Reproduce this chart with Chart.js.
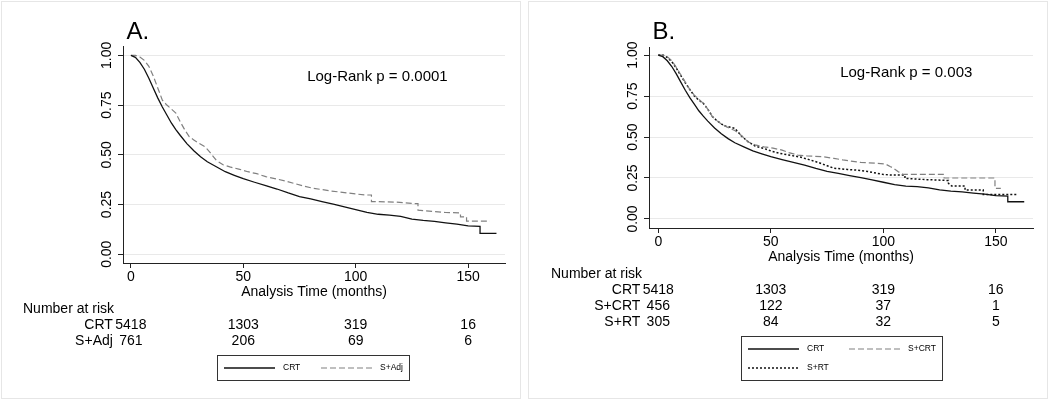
<!DOCTYPE html>
<html>
<head>
<meta charset="utf-8">
<script src="https://cdn.jsdelivr.net/npm/chart.js@4.4.1/dist/chart.umd.min.js"></script>
<style>
  html, body { margin: 0; padding: 0; background: #fff; }
  #wrap { position: relative; width: 1050px; height: 400px; overflow: hidden; }
  .frame { position: absolute; top: 1px; width: 518px; height: 396px; border: 1px solid #e6e6e6; }
  canvas { position: absolute; top: 0; }
</style>
</head>
<body>
<div id="wrap">
  <div class="frame" style="left:1px"></div>
  <div class="frame" style="left:528px"></div>
  <canvas id="chartA" width="525" height="400" style="left:0"></canvas>
  <canvas id="chartB" width="525" height="400" style="left:525px"></canvas>
</div>
<script>
// ---- data (months, survival probability) ----
const xTicks = [0, 50, 100, 150];
const yTicks = [0, 0.25, 0.5, 0.75, 1];
const riskTimes = [0, 50, 100, 150];

// CRT (same cohort in both panels)
const crtTime = [0,2,4,6,8,10,12,14,16,18,20,22,25,28,31,34,38,42,46,50,55,60,65,70,75,80,85,90,95,100,105,110,115,120,125,130,135,140,145,150,155.3,155.3,162.6];
const crtSurv = [1,0.99,0.965,0.93,0.885,0.835,0.785,0.74,0.70,0.66,0.627,0.597,0.555,0.52,0.49,0.465,0.44,0.415,0.397,0.38,0.362,0.345,0.328,0.308,0.29,0.278,0.265,0.252,0.238,0.224,0.21,0.201,0.197,0.19,0.177,0.17,0.165,0.158,0.151,0.143,0.14,0.105,0.105];

// S+Adj (panel A)
const adjTime = [0,2,4,6,8,10,12,14,16,18,20,22,24,26,28,30,33,35,38,41,44,48,52,56,60,65,69,73,77,81,85,89,93,98,104,107,107,118,126,127.7,127.7,140,146.6,146.6,149.3,149.3,159.7];
const adjSurv = [1,1,0.992,0.975,0.945,0.895,0.835,0.775,0.75,0.73,0.71,0.665,0.625,0.59,0.575,0.56,0.54,0.515,0.472,0.45,0.439,0.428,0.415,0.405,0.39,0.378,0.367,0.355,0.342,0.332,0.325,0.318,0.313,0.306,0.298,0.298,0.265,0.262,0.255,0.255,0.222,0.21,0.208,0.188,0.188,0.167,0.167];

// S+CRT (panel B)
const scrtTime = [0,2,4,6,8,10,12,14,16,18,20,22,24,26,28,30,32,34,36,38,40,43,47,51,55,58,62,66,73,78,82,90,97,101,103,104.5,106.5,108.7,127,127,149.6,149.6,152.2];
const scrtSurv = [1,1,0.99,0.965,0.925,0.88,0.835,0.79,0.755,0.73,0.705,0.67,0.625,0.6,0.58,0.565,0.55,0.54,0.52,0.495,0.47,0.452,0.44,0.432,0.42,0.405,0.39,0.385,0.38,0.37,0.36,0.345,0.34,0.335,0.32,0.31,0.289,0.272,0.272,0.25,0.25,0.187,0.187];

// S+RT (panel B)
const srtTime = [0,2,4,6,8,10,12,14,16,18,20,22,24,26,28,30,32,34,35.5,37,40,43,47,50,54,58,63,67,71,75,78,84,88,93,97,100,103,109.6,109.6,119.3,128.9,128.9,130.4,136.3,136.3,144.4,144.4,159.3];
const srtSurv = [1,1,0.985,0.96,0.92,0.875,0.83,0.79,0.75,0.725,0.705,0.67,0.625,0.6,0.58,0.565,0.56,0.553,0.53,0.505,0.47,0.445,0.43,0.415,0.40,0.39,0.378,0.362,0.345,0.325,0.31,0.302,0.298,0.29,0.279,0.272,0.268,0.268,0.248,0.24,0.235,0.218,0.201,0.201,0.177,0.177,0.15,0.15];

// number at risk
const atRiskCrt  = [5418, 1303, 319, 16];
const atRiskAdj  = [761, 206, 69, 6];
const atRiskScrt = [456, 122, 37, 1];
const atRiskSrt  = [305, 84, 32, 5];

// ---- styles ----
const FAMILY = '"Liberation Sans", Arial, Helvetica, sans-serif';
const TXT = "#000";
const AXIS = "#222";
const GRID = "#e9e9e9";

function pts(ts, ss){ return ts.map((t, i) => ({ x: t, y: ss[i] })); }

const solid  = { borderColor: "#111", borderWidth: 1.3, borderDash: [] };
const dashed = { borderColor: "#808080", borderWidth: 1.2, borderDash: [6, 3] };
const dotted = { borderColor: "#111", borderWidth: 1.5, borderDash: [2, 2] };

// extra text: panel letter, rotated y labels, p value, risk table, legend box
const extrasPlugin = {
  id: "extras",
  afterDraw(chart, args, o){
    const ctx = chart.ctx, xs = chart.scales.x, ys = chart.scales.y, ca = chart.chartArea;
    ctx.save();
    ctx.fillStyle = TXT;

    ctx.font = "24px " + FAMILY;
    ctx.textAlign = "left"; ctx.textBaseline = "alphabetic";
    ctx.fillText(o.letter, ca.left + 3.5, 39);

    ctx.font = "14px " + FAMILY;
    ctx.textAlign = "center"; ctx.textBaseline = "middle";
    ys.ticks.forEach(tk => {
      ctx.save();
      ctx.translate(ca.left - 15.5, ys.getPixelForValue(tk.value));
      ctx.rotate(-Math.PI / 2);
      ctx.fillText(tk.value.toFixed(2), 0, 0);
      ctx.restore();
    });

    ctx.font = "15px " + FAMILY;
    ctx.textAlign = "left";
    ctx.fillText(o.pText, xs.getPixelForValue(o.pAt[0]), ys.getPixelForValue(o.pAt[1]));

    // number at risk
    ctx.font = "14px " + FAMILY;
    ctx.fillText("Number at risk", o.narX, o.narY);
    const x0 = xs.getPixelForValue(0);
    o.rows.forEach((r, i) => {
      const y = o.narY + 16 * (i + 1);
      ctx.textAlign = "right";
      ctx.fillText(r.label, x0 - 18, y);
      ctx.textAlign = "center";
      riskTimes.forEach((t, j) => ctx.fillText(String(r.counts[j]), xs.getPixelForValue(t), y));
    });

    // legend
    const b = o.legend;
    ctx.strokeStyle = "#333"; ctx.lineWidth = 1; ctx.setLineDash([]);
    ctx.strokeRect(b.x + 0.5, b.y + 0.5, b.w, b.h);
    ctx.font = "8.5px " + FAMILY;
    ctx.textAlign = "left";
    b.items.forEach(it => {
      const ds = chart.data.datasets[it.ds];
      const lx = b.x + 7 + it.col * b.colGap, ly = b.y + b.rowY[it.row];
      ctx.strokeStyle = ds.borderColor; ctx.lineWidth = ds.borderWidth;
      ctx.setLineDash(ds.borderDash || []);
      ctx.beginPath(); ctx.moveTo(lx, ly); ctx.lineTo(lx + 51, ly); ctx.stroke();
      ctx.setLineDash([]);
      ctx.fillStyle = TXT;
      ctx.fillText(ds.label, lx + 59, ly);
    });
    ctx.restore();
  }
};

function makeChart(id, datasets, o){
  return new Chart(document.getElementById(id), {
    type: "line",
    data: { datasets },
    options: {
      responsive: false,
      animation: false,
      devicePixelRatio: 1,
      layout: { padding: o.pad },
      elements: { point: { radius: 0 }, line: { tension: 0 } },
      plugins: { legend: { display: false }, tooltip: { enabled: false }, extras: o.extras },
      scales: {
        x: {
          type: "linear", min: o.xMin, max: o.xMax,
          afterBuildTicks: s => { s.ticks = xTicks.map(v => ({ value: v })); },
          afterFit: s => { s.height = 40; },
          grid: { drawOnChartArea: false, drawTicks: true, tickLength: 5, tickColor: AXIS },
          border: { color: AXIS, width: 1 },
          ticks: { color: TXT, font: { family: FAMILY, size: 14 }, padding: 1, maxRotation: 0, autoSkip: false },
          title: { display: true, text: "Analysis Time (months)", color: TXT,
                   font: { family: FAMILY, size: 14 }, padding: { top: 0, bottom: 2 } }
        },
        y: {
          type: "linear", min: o.yMin, max: o.yMax,
          afterBuildTicks: s => { s.ticks = yTicks.map(v => ({ value: v })); },
          afterFit: s => { s.width = 40; },
          grid: { color: GRID, lineWidth: 1, drawTicks: true, tickLength: 5, tickColor: AXIS },
          border: { color: AXIS, width: 1 },
          ticks: { display: false }
        }
      }
    },
    plugins: [extrasPlugin]
  });
}

makeChart("chartA", [
  { label: "CRT",   data: pts(crtTime, crtSurv), ...solid },
  { label: "S+Adj", data: pts(adjTime, adjSurv), ...dashed }
], {
  pad: { left: 83, right: 20, top: 46, bottom: 97 },
  xMin: -3.5, xMax: 166.4, yMin: -0.044, yMax: 1.047,
  extras: {
    letter: "A.", pText: "Log-Rank p = 0.0001", pAt: [78.4, 0.89],
    narX: 23, narY: 309,
    rows: [{ label: "CRT", counts: atRiskCrt }, { label: "S+Adj", counts: atRiskAdj }],
    legend: { x: 217, y: 355, w: 192, h: 25, colGap: 97, rowY: [13],
              items: [{ ds: 0, col: 0, row: 0 }, { ds: 1, col: 1, row: 0 }] }
  }
});

makeChart("chartB", [
  { label: "CRT",   data: pts(crtTime, crtSurv), ...solid },
  { label: "S+CRT", data: pts(scrtTime, scrtSurv), ...dashed },
  { label: "S+RT",  data: pts(srtTime, srtSurv), ...dotted }
], {
  pad: { left: 84, right: 17, top: 47, bottom: 132 },
  xMin: -4.13, xMax: 166.5, yMin: -0.055, yMax: 1.049,
  extras: {
    letter: "B.", pText: "Log-Rank p = 0.003", pAt: [80.8, 0.89],
    narX: 26, narY: 274,
    rows: [{ label: "CRT", counts: atRiskCrt }, { label: "S+CRT", counts: atRiskScrt }, { label: "S+RT", counts: atRiskSrt }],
    legend: { x: 216, y: 336, w: 201, h: 44, colGap: 101, rowY: [13, 32],
              items: [{ ds: 0, col: 0, row: 0 }, { ds: 1, col: 1, row: 0 }, { ds: 2, col: 0, row: 1 }] }
  }
});
</script>
</body>
</html>
